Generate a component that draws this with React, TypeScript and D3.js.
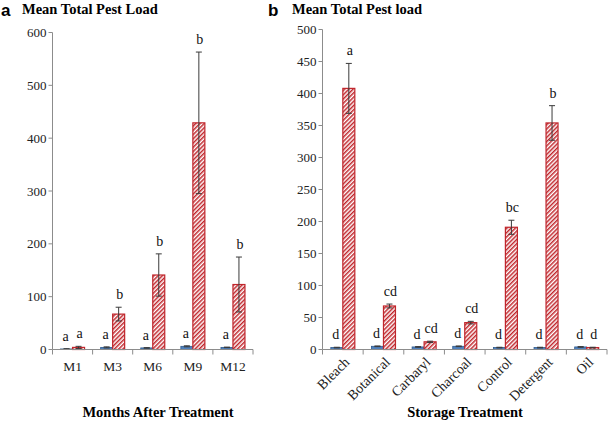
import React from 'react';
import * as d3 from 'd3';

// panel a data
const monthCats = ['M1', 'M3', 'M6', 'M9', 'M12'];
const monthBlue = [1, 4, 3, 6, 4];
const monthBlueErr = [0.5, 1, 0.5, 1, 0.5];
const monthRed = [4, 67, 141, 429, 123];
const monthRedErr = [2, 13, 40, 134, 52];
const monthBlueLetters = ['a', 'a', 'a', 'a', 'a'];
const monthRedLetters = ['a', 'b', 'b', 'b', 'b'];
const monthTicks = [0, 100, 200, 300, 400, 500, 600];

// panel b data
const storageCats = ['Bleach', 'Botanical', 'Carbaryl', 'Charcoal', 'Control', 'Detergent', 'Oil'];
const storageBlue = [3, 5, 4, 5, 3, 3, 4];
const storageBlueErr = [0.5, 0.5, 0.5, 0.5, 0.5, 0.5, 0.5];
const storageRed = [408, 68, 12, 42, 191, 354, 3];
const storageRedErr = [39, 3, 1, 2, 11, 27, 0.5];
const storageBlueLetters = ['d', 'd', 'd', 'd', 'd', 'd', 'd'];
const storageRedLetters = ['a', 'cd', 'cd', 'cd', 'bc', 'b', 'd'];
const storageTicks = [0, 50, 100, 150, 200, 250, 300, 350, 400, 450, 500];

const serif = '"Liberation Serif", "Times New Roman", serif';
const axisColor = '#8c8c8c';
const blue = '#4f81bd';
const red = '#c0262c';

function Panel({ x0, x1, yTop, yBase, max, ticks, cats, blueVals, blueErr, redVals, redErr, blueLetters, redLetters, rotate, pid }) {
  const x = d3.scaleBand().domain(cats).range([x0, x1]);
  const y = d3.scaleLinear().domain([0, max]).range([yBase, yTop]);
  const bw = 12;
  const errBar = (cx, v, e, key) => (
    <g key={key} stroke="#3a3a3a" strokeWidth={1}>
      <line x1={cx} x2={cx} y1={y(v - e)} y2={y(v + e)} />
      <line x1={cx - 3} x2={cx + 3} y1={y(v + e)} y2={y(v + e)} />
      <line x1={cx - 3} x2={cx + 3} y1={y(v - e)} y2={y(v - e)} />
    </g>
  );
  return (
    <g>
      {/* y axis */}
      <line x1={x0} x2={x0} y1={yTop} y2={yBase} stroke={axisColor} />
      {ticks.map(t => (
        <g key={'yt' + t}>
          <line x1={x0 - 4} x2={x0} y1={y(t)} y2={y(t)} stroke={axisColor} />
          <text x={x0 - 6} y={y(t)} dy="0.35em" textAnchor="end" fontFamily={serif} fontSize={13} fill="#222">{t}</text>
        </g>
      ))}
      {cats.map((c, i) => {
        const cx = x(c) + x.bandwidth() / 2;
        return (
          <g key={c}>
            <rect x={cx - bw} y={y(blueVals[i])} width={bw} height={yBase - y(blueVals[i])} fill={blue} stroke="#2e5a8c" strokeWidth={0.8} />
            <rect x={cx} y={y(redVals[i])} width={bw} height={yBase - y(redVals[i])} fill={`url(#hatch${pid})`} stroke={red} strokeWidth={1.2} />
            {errBar(cx - bw / 2, blueVals[i], blueErr[i], 'eb')}
            {errBar(cx + bw / 2, redVals[i], redErr[i], 'er')}
            <text x={cx - bw / 2 - 1} y={y(blueVals[i] + blueErr[i]) - 8} textAnchor="middle" fontFamily={serif} fontSize={14} fill="#111">{blueLetters[i]}</text>
            <text x={cx + bw / 2 + 1} y={y(redVals[i] + redErr[i]) - 8} textAnchor="middle" fontFamily={serif} fontSize={14} fill="#111">{redLetters[i]}</text>
            {rotate ? (
              <text transform={`translate(${cx + 4},${yBase + 10}) rotate(-45)`} textAnchor="end" dy="0.35em" fontFamily={serif} fontSize={14} fill="#222">{c}</text>
            ) : (
              <text x={cx} y={yBase + 21} textAnchor="middle" fontFamily={serif} fontSize={13.5} fill="#222">{c}</text>
            )}
          </g>
        );
      })}
      {/* x axis */}
      <line x1={x0} x2={x1} y1={yBase} y2={yBase} stroke={axisColor} />
      {d3.range(cats.length + 1).map(i => {
        const tx = x0 + i * x.bandwidth();
        return <line key={'xt' + i} x1={tx} x2={tx} y1={yBase} y2={yBase + 5} stroke={axisColor} />;
      })}
    </g>
  );
}

export default function App() {
  return (
    <svg width={609} height={424} style={{ position: 'absolute', left: 0, top: 0, background: 'white' }}>
      <defs>
        {['a', 'b'].map(p => (
          <pattern key={p} id={'hatch' + p} patternUnits="userSpaceOnUse" width={3} height={3} patternTransform="rotate(45)">
            <rect width={3} height={3} fill="#ffffff" />
            <rect width={1.5} height={3} fill={red} />
          </pattern>
        ))}
      </defs>
      <text x={1} y={16} fontFamily='"Liberation Sans", Arial, sans-serif' fontWeight="bold" fontSize={17}>a</text>
      <text x={22} y={14} fontFamily={serif} fontWeight="bold" fontSize={14.5}>Mean Total Pest Load</text>
      <text x={268} y={16} fontFamily='"Liberation Sans", Arial, sans-serif' fontWeight="bold" fontSize={17}>b</text>
      <text x={292} y={14} fontFamily={serif} fontWeight="bold" fontSize={14.5}>Mean Total Pest load</text>

      <Panel pid="a" x0={52.5} x1={253} yTop={32.5} yBase={349.5} max={600} ticks={monthTicks} cats={monthCats}
        blueVals={monthBlue} blueErr={monthBlueErr} redVals={monthRed} redErr={monthRedErr}
        blueLetters={monthBlueLetters} redLetters={monthRedLetters} rotate={false} />
      <Panel pid="b" x0={322.5} x1={607} yTop={29.5} yBase={349.5} max={500} ticks={storageTicks} cats={storageCats}
        blueVals={storageBlue} blueErr={storageBlueErr} redVals={storageRed} redErr={storageRedErr}
        blueLetters={storageBlueLetters} redLetters={storageRedLetters} rotate={true} />

      <text x={158} y={417} textAnchor="middle" fontFamily={serif} fontWeight="bold" fontSize={14.5}>Months After Treatment</text>
      <text x={465} y={417} textAnchor="middle" fontFamily={serif} fontWeight="bold" fontSize={14.5}>Storage Treatment</text>
    </svg>
  );
}
